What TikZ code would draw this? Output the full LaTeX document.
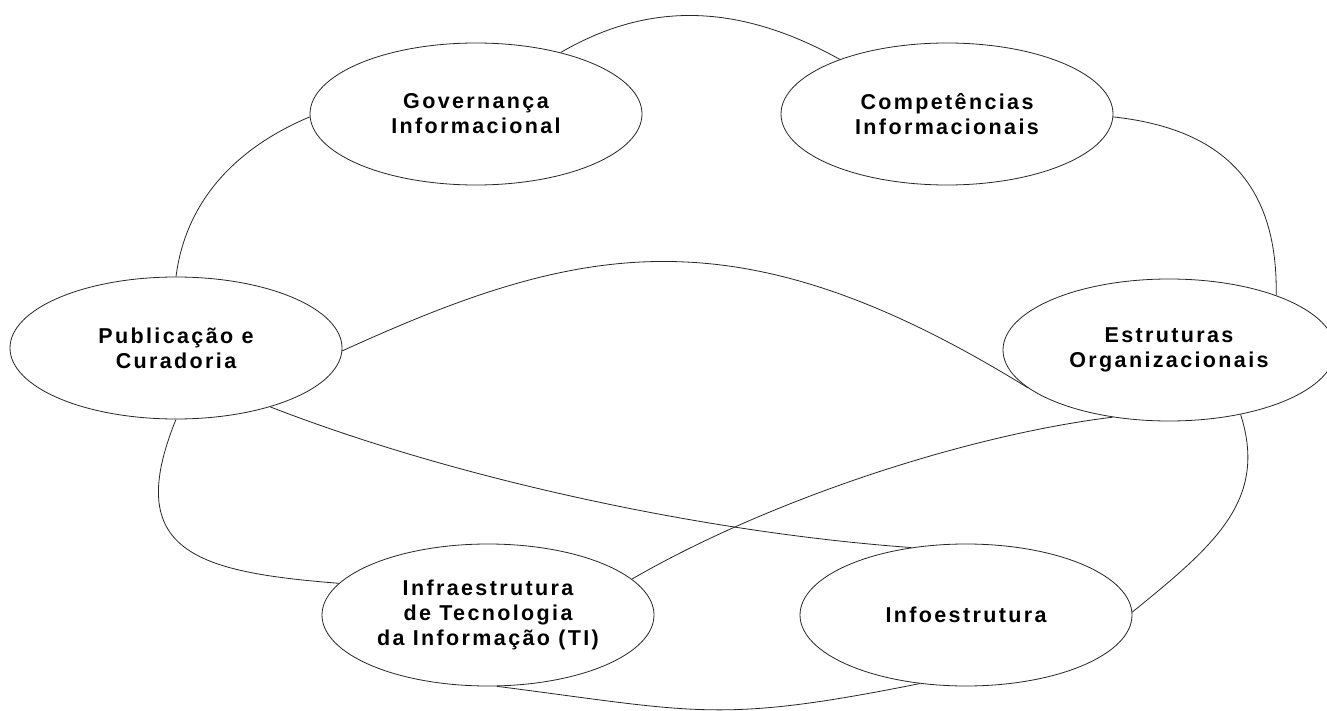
\documentclass[tikz,border=0pt]{standalone}
\usepackage{fontspec}
\setmainfont{Liberation Sans}
\newfontfamily\labelfont{Liberation Sans Bold}[LetterSpace=11]
\usetikzlibrary{shapes.geometric}

\tikzset{
  topic/.style={ellipse, draw=black!85, line width=0.8pt, fill=white,
    minimum width=332pt, minimum height=142pt, inner sep=0pt, align=center,
    font=\labelfont\fontsize{21.5}{25}\selectfont},
  link/.style={draw=black!85, line width=0.8pt}
}

\begin{document}
\begin{tikzpicture}[x=1pt,y=-1pt]
  \useasboundingbox (0,0) rectangle (1327,711);
  \fill[white] (0,0) rectangle (1327,711);

  % the six topics
  \node[topic] (gov)   at (476,114) {Governança\\Informacional};
  \node[topic] (comp)  at (947,114) {Competências\\Informacionais};
  \node[topic] (pub)   at (176,348) {Publicação e\\Curadoria};
  \node[topic] (est)   at (1169,350) {Estruturas\\Organizacionais};
  \node[topic] (infra) at (488,615) {Infraestrutura\\de Tecnologia\\da Informação (TI)};
  \node[topic] (info)  at (966,615) {Infoestrutura};

  % curved links between the topics
  \draw[link] (gov.36)   .. controls (644,4)    and (733,0)    .. (comp.153);
  \draw[link] (gov.181)  .. controls (238,147)  and (186,199)  .. (pub.90);
  \draw[link] (comp.-1)  .. controls (1224,129) and (1278,185) .. (est.27);
  \draw[link] (pub.-90)  .. controls (122,552)  and (197,572)  .. (infra.168);
  \draw[link] (pub.-32)  .. controls (461,481)  and (710,533)  .. (info.129);
  \draw[link] (pub.-1)   .. controls (579,243)  and (737,208)  .. (est.195);
  \draw[link] (infra.14) .. controls (763,503)  and (960,436)  .. (est.230);
  \draw[link] (est.-42)  .. controls (1268,500) and (1215,545) .. (info.1);
  \draw[link] (infra.-83) .. controls (697,712) and (718,724)  .. (info.236);
\end{tikzpicture}
\end{document}
